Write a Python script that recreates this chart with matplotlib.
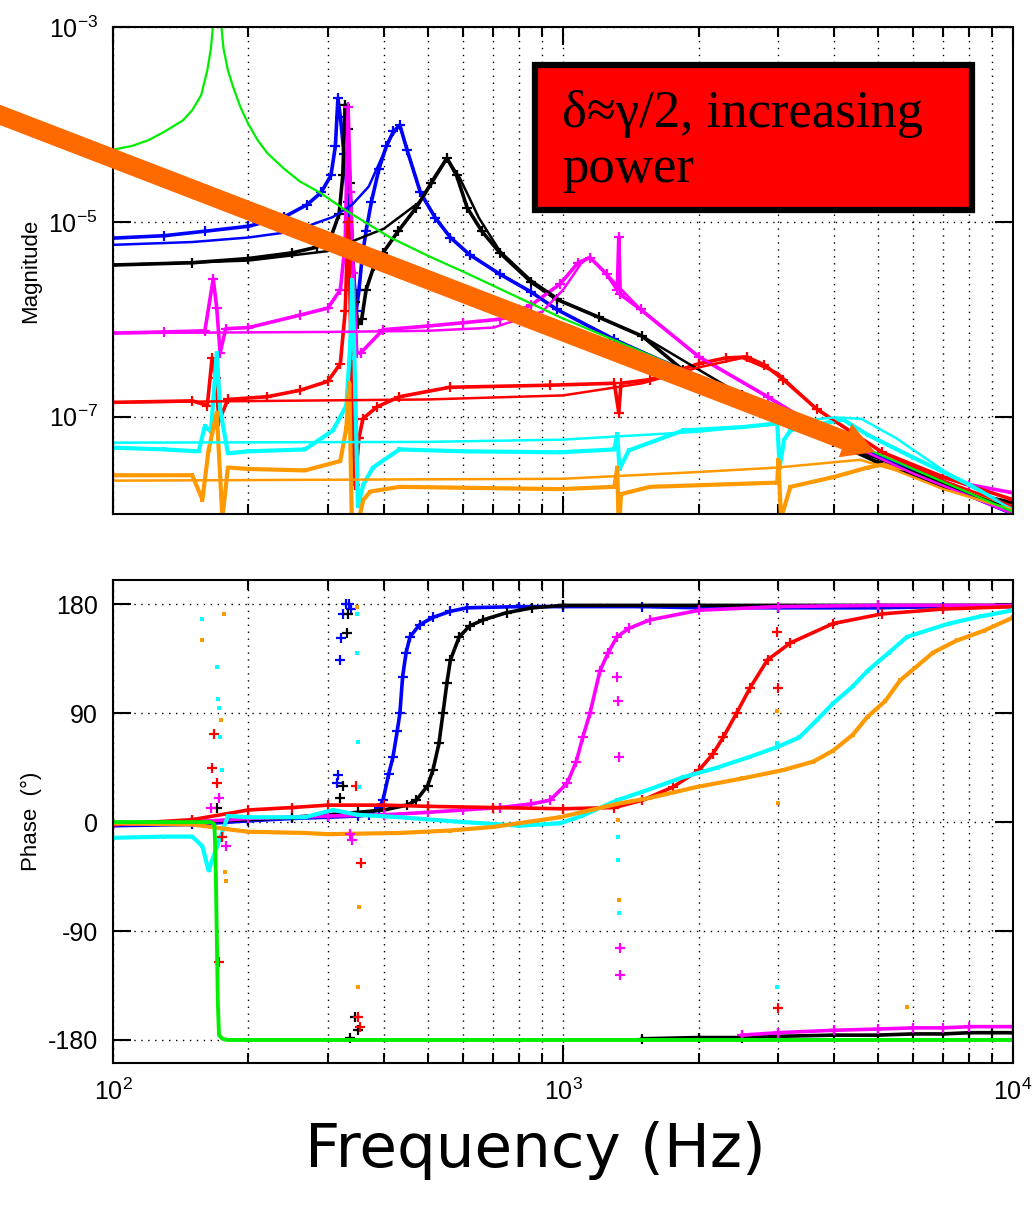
import matplotlib
matplotlib.use('Agg')
import matplotlib.pyplot as plt
from matplotlib.patches import FancyArrow, Rectangle
from matplotlib.ticker import NullLocator, NullFormatter, LogLocator

plt.rcParams['font.family'] = ['Liberation Sans', 'DejaVu Sans']
plt.rcParams['mathtext.default'] = 'regular'
plt.rcParams['axes.unicode_minus'] = False

# ---------------- magnitude: measured traces ----------------
blue_f = [100, 130, 160, 200, 240, 270, 290, 305, 312, 316, 320, 326, 333, 340, 347, 352, 358, 365, 375, 390,
          405, 420, 434, 450, 482, 520, 562, 620, 724, 850, 968, 1300, 1800, 2500, 3500, 5000, 7000, 10000]
blue_m = [6.8e-6, 7.2e-6, 8.0e-6, 9.0e-6, 1.12e-5, 1.5e-5, 2.0e-5, 3.0e-5, 6e-5, 1.85e-4, 1.2e-4, 5e-5, 1.6e-5,
          5e-6, 1.2e-6, 2.0e-6, 4.5e-6, 8e-6, 1.6e-5, 3.5e-5, 6e-5, 8.5e-5, 9.8e-5, 5.5e-5, 2.0e-5, 1.1e-5,
          6.9e-6, 4.6e-6, 2.9e-6, 1.9e-6, 1.26e-6, 6.2e-7, 3.1e-7, 1.6e-7, 8.2e-8, 4.0e-8, 2.0e-8, 1.0e-8]

black_f = [100, 150, 200, 250, 284, 305, 318, 324, 328, 332, 336, 340, 345, 350, 357, 365, 380, 398, 430, 472,
           510, 552, 580, 612, 660, 724, 850, 968, 1200, 1500, 1848, 2500, 3000, 3981, 5000, 7000, 10000]
black_m = [3.6e-6, 3.8e-6, 4.2e-6, 4.8e-6, 5.5e-6, 7e-6, 1.2e-5, 3e-5, 1.6e-4, 9e-5, 2.5e-5, 6e-6, 1.5e-6, 9e-7,
           1.0e-6, 2.0e-6, 3.5e-6, 4.8e-6, 8e-6, 1.4e-5, 2.5e-5, 4.5e-5, 3.0e-5, 1.4e-5, 8e-6, 4.8e-6, 2.4e-6,
           1.6e-6, 1.05e-6, 6.7e-7, 3.0e-7, 1.65e-7, 1.15e-7, 5.5e-8, 3.4e-8, 1.9e-8, 1.3e-8]

mag_f = [100, 130, 160, 167, 170, 173, 178, 200, 260, 300, 320, 328, 333, 337, 342, 348, 355, 398, 500, 600,
         724, 850, 985, 1080, 1148, 1250, 1320, 1330, 1340, 1487, 2006, 2847, 3981, 6000, 8000, 10000]
mag_m = [7.2e-7, 7.4e-7, 7.6e-7, 2.6e-6, 1.3e-6, 4.5e-7, 8e-7, 8.2e-7, 1.1e-6, 1.3e-6, 2.0e-6, 6e-6, 1.5e-4,
         2e-5, 3e-6, 4.5e-7, 4.5e-7, 7.8e-7, 8.5e-7, 9.2e-7, 1.0e-6, 1.4e-6, 2.3e-6, 3.8e-6, 4.3e-6, 2.9e-6,
         2.0e-6, 7e-6, 1.8e-6, 1.26e-6, 4.1e-7, 1.6e-7, 6.2e-8, 2.9e-8, 2.0e-8, 1.65e-8]

red_f = [100, 150, 162, 166, 169, 172, 180, 220, 260, 300, 320, 328, 333, 336, 340, 345, 352, 359, 386, 433,
         560, 935, 1300, 1330, 1345, 1560, 2006, 2300, 2560, 2800, 3087, 3658, 5120, 7000, 10000]
red_m = [1.4e-7, 1.45e-7, 1.3e-7, 4e-7, 2.5e-7, 9e-8, 1.5e-7, 1.6e-7, 1.86e-7, 2.3e-7, 3.5e-7, 1.2e-6, 1.0e-5,
         2e-6, 1e-7, 2.0e-8, 6e-8, 9.5e-8, 1.26e-7, 1.6e-7, 2.0e-7, 2.1e-7, 2.2e-7, 1.1e-7, 2.2e-7, 2.4e-7,
         3.5e-7, 4.0e-7, 4.1e-7, 3.4e-7, 2.4e-7, 1.2e-7, 4.3e-8, 2.4e-8, 1.4e-8]

cyan_f = [100, 130, 155, 160, 165, 170, 173, 180, 200, 267, 308, 330, 337, 340, 344, 350, 360, 378, 433, 600,
          985, 1300, 1320, 1335, 1400, 1848, 2500, 2992, 3030, 3100, 3200, 3400, 4190, 4750, 6000, 8000, 10000]
cyan_m = [4.8e-8, 4.6e-8, 4.4e-8, 8e-8, 7e-8, 4.5e-7, 1.2e-7, 4.2e-8, 4.4e-8, 4.6e-8, 7.2e-8, 1.3e-7, 6e-7,
          2.5e-6, 4e-7, 1.2e-8, 2.0e-8, 3.0e-8, 4.6e-8, 4.4e-8, 4.3e-8, 4.6e-8, 6.6e-8, 2.9e-8, 4.5e-8, 7.2e-8,
          7.8e-8, 8.5e-8, 3.0e-8, 5.8e-8, 7.2e-8, 7.8e-8, 9.3e-8, 6.5e-8, 3.8e-8, 2.0e-8, 1.1e-8]

orange_f = [100, 150, 158, 163, 170, 175, 180, 200, 267, 320, 330, 335, 340, 350, 360, 373, 433, 985, 1300,
            1320, 1330, 1345, 1560, 2992, 3010, 3050, 3200, 4000, 4750, 5120, 6000, 8000, 10000]
orange_m = [2.5e-8, 2.5e-8, 1.4e-8, 4.5e-8, 1.1e-7, 9e-9, 3.0e-8, 2.9e-8, 2.8e-8, 3.5e-8, 7.7e-8, 2.2e-7, 5e-9,
            8e-9, 1.4e-8, 1.7e-8, 1.9e-8, 1.8e-8, 1.9e-8, 3.0e-8, 6e-9, 1.6e-8, 1.9e-8, 2.1e-8, 3.6e-8, 9e-9,
            1.9e-8, 2.4e-8, 3.0e-8, 3.2e-8, 2.8e-8, 1.7e-8, 1.1e-8]

# ---------------- magnitude: fitted curves ----------------
bfit_f = [100, 150, 200, 238, 270, 308, 340, 370, 395, 415, 434, 450, 482, 520, 562, 620, 724, 850, 968, 1300,
          2000, 3500, 5000, 10000]
bfit_m = [5.8e-6, 6.2e-6, 6.9e-6, 7.7e-6, 9e-6, 1.12e-5, 1.5e-5, 2.3e-5, 4.5e-5, 7.5e-5, 9.8e-5, 5.5e-5, 2.0e-5,
          1.1e-5, 6.9e-6, 4.6e-6, 2.9e-6, 1.9e-6, 1.26e-6, 6.2e-7, 2.6e-7, 8.2e-8, 4.0e-8, 1.0e-8]
kfit_f = [100, 200, 300, 400, 480, 520, 552, 590, 650, 724, 850, 1000, 1500, 2500, 4000, 10000]
kfit_m = [3.6e-6, 4.0e-6, 5.0e-6, 8.5e-6, 1.6e-5, 3.0e-5, 4.5e-5, 2.8e-5, 1.1e-5, 5e-6, 2.5e-6, 1.5e-6, 6.7e-7,
          1.65e-7, 5.5e-8, 1.1e-8]
mfit_f = [100, 300, 500, 700, 900, 1000, 1100, 1148, 1250, 1487, 2006, 2847, 3981, 6000, 10000]
mfit_m = [7.2e-7, 7.4e-7, 7.6e-7, 8.2e-7, 1.2e-6, 2.0e-6, 3.8e-6, 4.3e-6, 2.9e-6, 1.26e-6, 4.1e-7, 1.6e-7,
          6.2e-8, 2.6e-8, 1.0e-8]
rfit_f = [100, 500, 1000, 1500, 2000, 2500, 3000, 3658, 5120, 7000, 10000]
rfit_m = [1.4e-7, 1.5e-7, 1.65e-7, 2.2e-7, 3.2e-7, 4.0e-7, 2.8e-7, 1.2e-7, 4.3e-8, 2.2e-8, 1.2e-8]
cfit_f = [100, 500, 1000, 2000, 3000, 4000, 4600, 5500, 7000, 10000]
cfit_m = [5.4e-8, 5.5e-8, 5.8e-8, 7.0e-8, 8.5e-8, 9.8e-8, 9.5e-8, 6.0e-8, 2.8e-8, 1.1e-8]
ofit_f = [100, 1000, 2000, 3000, 4000, 4570, 5500, 7000, 10000]
ofit_m = [2.2e-8, 2.3e-8, 2.7e-8, 3.0e-8, 3.4e-8, 3.6e-8, 2.8e-8, 1.8e-8, 1.1e-8]

green_f = [100, 110, 120, 130, 143, 150, 157, 162, 165, 168, 170, 172, 176, 180, 185, 192, 200, 210, 220, 240,
           260, 288, 330, 413, 500, 612, 800, 985, 1500, 2000, 3000, 4000, 6000, 10000]
green_m = [5.5e-5, 6.0e-5, 6.9e-5, 8.4e-5, 1.1e-4, 1.4e-4, 2.0e-4, 3.6e-4, 6e-4, 1.5e-3, 5e-3, 1.8e-3, 6e-4,
           3.6e-4, 2.4e-4, 1.5e-4, 1.0e-4, 6.8e-5, 5.1e-5, 3.5e-5, 2.6e-5, 2.0e-5, 1.3e-5, 6.9e-6, 4.5e-6,
           2.95e-6, 1.65e-6, 1.05e-6, 4.6e-7, 2.6e-7, 1.15e-7, 6.5e-8, 2.9e-8, 1.05e-8]

# ---------------- phase: measured traces ----------------
blue_pf = [100, 150, 200, 250, 300, 350, 370, 390, 398, 410, 419, 428, 434, 440, 448, 457, 480, 514, 560, 612,
           800, 1000, 1500, 2000, 3000, 5000, 7000, 10000]
blue_p = [-3, -2, 1, 3, 4, 5, 6, 12, 18, 40, 54, 75, 90, 120, 140, 153, 163, 169, 174, 177, 178, 178, 178, 177,
          177, 177, 178, 178]
black_pf = [100, 150, 200, 250, 300, 350, 400, 450, 472, 500, 514, 530, 541, 552, 562, 588, 620, 664, 750, 855,
            1000, 2000, 5000, 10000]
black_p = [-1, 0, 2, 4, 6, 8, 10, 14, 18, 30, 43, 65, 90, 115, 134, 153, 162, 167, 173, 177, 179, 179, 179, 179]
mag_pf = [100, 150, 200, 300, 400, 500, 600, 724, 850, 935, 1021, 1070, 1106, 1148, 1208, 1260, 1318, 1400,
          1560, 2006, 3000, 5000, 10000]
mag_p = [-2, 0, 3, 5, 6, 8, 10, 12, 15, 18, 32, 50, 70, 90, 125, 140, 153, 160, 167, 175, 178, 179, 179]
red_pf = [100, 150, 200, 250, 300, 400, 500, 700, 1000, 1300, 1500, 1756, 2006, 2150, 2270, 2430, 2605, 2847,
          3200, 3981, 5120, 7000, 10000]
red_p = [-2, 2, 10, 12, 14, 14, 13, 12, 11, 12, 18, 29, 43, 56, 70, 90, 111, 134, 148, 164, 172, 176, 178]
cyan_pf = [100, 130, 150, 158, 163, 180, 200, 267, 308, 350, 433, 600, 800, 985, 1100, 1318, 1500, 1848, 2200,
           2605, 2992, 3352, 3658, 3981, 4400, 4750, 5300, 5810, 7200, 8500, 10000]
cyan_p = [-13, -12, -12, -20, -40, 5, 4, 4, 10, 6, 4, 0, -3, -1, 5, 18, 25, 37, 45, 54, 62, 70, 84, 98, 112,
          125, 140, 153, 164, 170, 175]
orange_pf = [100, 150, 165, 180, 200, 267, 300, 433, 560, 700, 985, 1318, 1560, 1983, 2500, 3087, 3600, 3981,
             4400, 4750, 5200, 5610, 6640, 7500, 8600, 10000]
orange_p = [-1, -2, -4, -6, -8, -9, -10, -9, -7, -4, 4, 15, 20, 29, 36, 43, 50, 59, 72, 87, 100, 117, 140, 150,
            158, 169]

# wrapped high-frequency points sitting near -180
black_wf = [1500, 2000, 2500, 3000, 4000, 5000, 6000, 7000, 8000, 9000, 10000]
black_w = [-179, -178, -178, -177, -176, -176, -175, -175, -174, -174, -174]
mag_wf = [2500, 3000, 4000, 5000, 6000, 7000, 8000, 10000]
mag_w = [-176, -174, -172, -171, -170, -170, -169, -169]

# isolated phase outliers around the spurious resonances
blue_sf = [314, 316, 320, 321, 324, 330, 335, 338]
blue_s = [32, 39, 134, 152, 172, 180, 180, 176]
black_sf = [320, 325, 331, 333, 336, 345, 350, 170]
black_s = [20, 30, 156, 172, -178, -161, -172, 12]
mag_sf = [165, 172, 178, 336, 340, 1320, 1325, 1330, 1335, 1338, 3000]
mag_s = [12, 20, -20, -10, -15, 120, 100, 54, -104, -126, -174]
red_sf = [166, 168, 170, 172, 175, 347, 350, 353, 356, 2990, 3000, 3010]
red_s = [45, 73, 32, -116, -12, 30, -161, -169, -34, 157, 111, -154]
cyan_sf = [158, 170, 171, 172, 173, 175, 348, 349, 350, 352, 1325, 1328, 1330, 2990, 2995]
cyan_s = [168, 128, 102, 94, 70, 43, 172, 140, 66, 29, -12, -31, -75, 65, -136]
orange_sf = [158, 174, 176, 177, 178, 348, 350, 352, 1325, 1330, 2995, 3000, 5810]
orange_s = [150, 84, 172, -41, -49, 178, -136, -70, 2, -64, 92, 16, -153]

green_pf = [100, 150, 165, 168, 169, 170, 171, 172, 175, 180, 10000]
green_p = [0, 0, 0, -2, -30, -90, -150, -176, -179, -180, -180]

BLUE, BLACK, MAGENTA, RED = '#0000ff', '#000000', '#ff00ff', '#ff0000'
CYAN, ORANGE, GREEN = '#00ffff', '#ff9900', '#00ee00'

fig = plt.figure(figsize=(10.35, 12.06), dpi=100)
ax1 = fig.add_axes([0.1092, 0.5738, 0.8696, 0.4038])
ax2 = fig.add_axes([0.1092, 0.1186, 0.8696, 0.4005])


def trace(ax, f, y, color, square=False, line=True):
    ls = '-' if line else 'none'
    if square:
        ax.plot(f, y, color=color, lw=3.0, ls=ls, marker='s', ms=3.5, mew=0)
    else:
        ax.plot(f, y, color=color, lw=2.6, ls=ls, marker='+', ms=7, mew=1.6)


# magnitude panel
trace(ax1, blue_f, blue_m, BLUE)
trace(ax1, black_f, black_m, BLACK)
trace(ax1, mag_f, mag_m, MAGENTA)
trace(ax1, red_f, red_m, RED)
trace(ax1, cyan_f, cyan_m, CYAN, square=True)
trace(ax1, orange_f, orange_m, ORANGE, square=True)
for f, m, c in [(bfit_f, bfit_m, BLUE), (kfit_f, kfit_m, BLACK), (mfit_f, mfit_m, MAGENTA),
                (rfit_f, rfit_m, RED), (cfit_f, cfit_m, CYAN), (ofit_f, ofit_m, ORANGE)]:
    ax1.plot(f, m, color=c, lw=1.8)
ax1.plot(green_f, green_m, color=GREEN, lw=1.6)

# phase panel
trace(ax2, blue_pf, blue_p, BLUE)
trace(ax2, black_pf, black_p, BLACK)
trace(ax2, mag_pf, mag_p, MAGENTA)
trace(ax2, red_pf, red_p, RED)
trace(ax2, cyan_pf, cyan_p, CYAN, square=True)
trace(ax2, orange_pf, orange_p, ORANGE, square=True)
trace(ax2, black_wf, black_w, BLACK)
trace(ax2, mag_wf, mag_w, MAGENTA)
trace(ax2, blue_sf, blue_s, BLUE, line=False)
trace(ax2, black_sf, black_s, BLACK, line=False)
trace(ax2, mag_sf, mag_s, MAGENTA, line=False)
trace(ax2, red_sf, red_s, RED, line=False)
trace(ax2, cyan_sf, cyan_s, CYAN, square=True, line=False)
trace(ax2, orange_sf, orange_s, ORANGE, square=True, line=False)
ax2.plot(green_pf, green_p, color=GREEN, lw=2.8)

for ax in (ax1, ax2):
    ax.set_xscale('log')
    ax.set_xlim(100, 10000)
    ax.xaxis.set_major_locator(LogLocator(base=10, numticks=10))
    ax.xaxis.set_minor_locator(LogLocator(base=10, subs=range(2, 10), numticks=10))
    ax.xaxis.set_minor_formatter(NullFormatter())
    ax.tick_params(which='major', direction='in', length=13, width=1.5, top=True, right=True,
                   labelsize=18, pad=11)
    ax.tick_params(which='minor', direction='in', length=7, width=1.5, top=True, right=True)
    ax.grid(True, which='both', axis='x', color='black', ls=(0, (1, 4)), lw=1.0)
    ax.grid(True, which='major', axis='y', color='black', ls=(0, (1, 4)), lw=1.0)
    for s in ax.spines.values():
        s.set_linewidth(1.5)

ax1.set_yscale('log')
ax1.set_ylim(1e-8, 1e-3)
ax1.set_yticks([1e-7, 1e-5, 1e-3])
ax1.set_yticklabels(['$10^{-7}$', '$10^{-5}$', '$10^{-3}$'])
ax1.yaxis.set_minor_locator(NullLocator())
ax1.tick_params(axis='x', labelbottom=False)
ax1.set_ylabel('Magnitude', fontsize=16, labelpad=5)

ax2.set_ylim(-199, 200)
ax2.set_yticks([-180, -90, 0, 90, 180])
ax2.set_xticks([100, 1000, 10000])
ax2.set_xticklabels(['$10^{2}$', '$10^{3}$', '$10^{4}$'])
ax2.set_ylabel('Phase  (°)', fontsize=16, labelpad=4)

fig.text(0.517, 0.046, 'Frequency (Hz)', fontsize=44, family=['DejaVu Sans'], ha='center', va='center')

# annotation box and arrow, placed in figure inches
inch = fig.dpi_scale_trans
box = Rectangle((5.35, 9.96), 4.37, 1.45, transform=inch, facecolor='#ff0000',
                edgecolor='black', lw=4.5, zorder=5)
fig.patches.append(box)
serif = ['Liberation Serif', 'DejaVu Serif']
fig.text(5.62, 12.06 - 1.27, 'δ≈γ/2, increasing', fontsize=38, family=serif,
         ha='left', va='baseline', zorder=6, transform=inch)
fig.text(5.62, 12.06 - 1.82, 'power', fontsize=38, family=serif,
         ha='left', va='baseline', zorder=6, transform=inch)

arrow = FancyArrow(-0.05, 12.06 - 1.13, 8.80, -3.39, width=0.19, head_width=0.36, head_length=0.32,
                   length_includes_head=True, transform=inch, color='#ff6a00', lw=0, zorder=7)
fig.patches.append(arrow)

fig.savefig('out.png', dpi=100)
